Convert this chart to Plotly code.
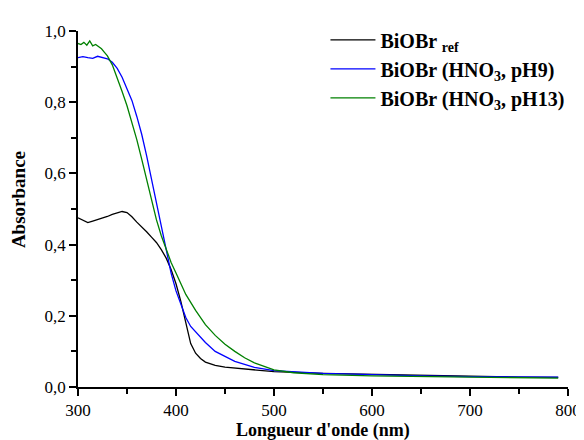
import plotly.graph_objects as go

ref_x = [300,305,310,315,320,325,330,335,340,345,350,355,360,365,370,375,380,385,390,395,400,405,410,415,420,425,430,435,440,450,460,480,500,550,600,650,700,750,790]
ref_y = [0.475,0.468,0.462,0.466,0.470,0.474,0.479,0.485,0.490,0.493,0.490,0.478,0.463,0.450,0.436,0.421,0.406,0.386,0.362,0.330,0.290,0.240,0.180,0.122,0.095,0.080,0.070,0.065,0.061,0.056,0.053,0.048,0.043,0.038,0.035,0.032,0.030,0.028,0.027]

ph9_x = [300,305,310,315,320,325,330,335,340,345,350,355,360,365,370,375,380,385,390,395,400,405,410,415,420,430,440,450,460,480,500,550,600,650,700,750,790]
ph9_y = [0.925,0.928,0.925,0.923,0.929,0.925,0.922,0.912,0.895,0.870,0.840,0.805,0.760,0.710,0.650,0.585,0.520,0.450,0.380,0.320,0.270,0.230,0.195,0.170,0.155,0.125,0.100,0.085,0.072,0.055,0.046,0.038,0.034,0.031,0.029,0.028,0.028]

ph13_x = [300,303,306,309,312,315,318,321,324,327,330,335,340,345,350,355,360,365,370,375,380,385,390,395,400,405,410,420,430,440,450,460,470,480,490,500,520,550,600,650,700,750,790]
ph13_y = [0.965,0.962,0.968,0.960,0.972,0.958,0.962,0.955,0.950,0.940,0.930,0.905,0.870,0.830,0.790,0.745,0.695,0.640,0.585,0.525,0.470,0.425,0.385,0.350,0.320,0.290,0.260,0.215,0.175,0.145,0.120,0.100,0.082,0.068,0.057,0.048,0.040,0.035,0.031,0.029,0.027,0.026,0.025]

names = ["<b>BiOBr <sub>ref</sub></b>",
         "<b>BiOBr (HNO<sub>3</sub>, pH9)</b>",
         "<b>BiOBr (HNO<sub>3</sub>, pH13)</b>"]
colors = ["#000000", "#0000ff", "#008000"]

fig = go.Figure()
for x, y, n, c in zip([ref_x, ph9_x, ph13_x], [ref_y, ph9_y, ph13_y], names, colors):
    fig.add_trace(go.Scatter(x=x, y=y, mode="lines", name=n,
                             line=dict(color=c, width=1.3)))

font = "Liberation Serif"
axis_common = dict(showline=True, linecolor="black", linewidth=1.5, ticks="outside",
                   ticklen=7, tickwidth=1.5, tickcolor="black", showgrid=False, zeroline=False,
                   mirror=False, automargin=False, tickfont=dict(family=font, size=17, color="black"))
fig.update_xaxes(range=[300, 800], dtick=100,
                 minor=dict(ticks="outside", dtick=50, ticklen=5, tickwidth=1.5, tickcolor="black"),
                 **axis_common)
fig.update_yaxes(range=[0, 1.0], dtick=0.2, tickformat=".1f",
                 minor=dict(ticks="outside", dtick=0.1, ticklen=5, tickwidth=1.5, tickcolor="black"),
                 **axis_common)

# axis titles as annotations for exact placement
fig.add_annotation(text="<b>Longueur d'onde (nm)</b>", xref="paper", yref="paper",
                   x=0.5, y=-0.122, xanchor="center", yanchor="middle", showarrow=False,
                   font=dict(family=font, size=18, color="black"))
fig.add_annotation(text="<b>Absorbance</b>", xref="paper", yref="paper", textangle=-90,
                   x=-0.1224, y=0.525, xanchor="center", yanchor="middle", showarrow=False,
                   font=dict(family=font, size=19, color="black"))

# the page adds an 8px body margin, so the figure is sized/offset to compensate
fig.update_layout(
    width=576, height=432,
    margin=dict(l=70, r=16, t=17, b=53),
    paper_bgcolor="white", plot_bgcolor="white",
    separators=", ",
    legend=dict(x=0.505, y=1.03, xanchor="left", yanchor="top", bgcolor="rgba(0,0,0,0)",
                font=dict(family=font, size=20, color="black"), tracegroupgap=0, itemwidth=45),
)

fig.write_html("out.html")
